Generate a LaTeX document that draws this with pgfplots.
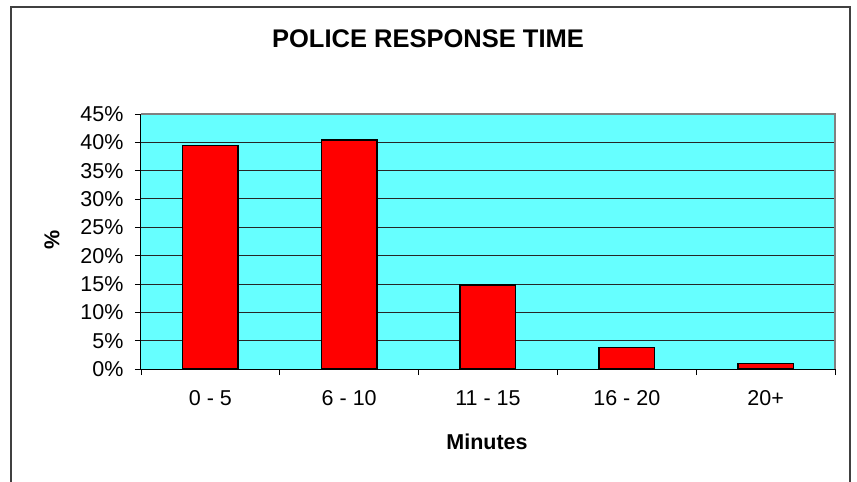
\documentclass[border=0pt]{standalone}
\usepackage{pgfplots}
\pgfplotsset{compat=1.18}
\usepackage{fontspec}
\setmainfont{Liberation Sans}
\definecolor{plotbg}{RGB}{102,255,255}
\definecolor{framegray}{RGB}{64,64,64}
\begin{document}
\begin{tikzpicture}
\begin{axis}[
  name=ax,
  scale only axis, width=694pt, height=255pt,
  xmin=-0.5, xmax=4.5, ymin=0, ymax=45,
  axis x line*=bottom, axis y line*=left,
  axis line style={black, line width=1pt},
  axis background/.style={fill=plotbg},
  xtick={-0.5,0.5,1.5,2.5,3.5,4.5},
  xticklabels={0 - 5,6 - 10,11 - 15,16 - 20,20+},
  x tick label as interval,
  ytick={0,5,...,45},
  yticklabels={0\%,5\%,10\%,15\%,20\%,25\%,30\%,35\%,40\%,45\%},
  tick align=outside, major tick length=6pt,
  tick style={black, line width=0.8pt},
  ymajorgrids, grid style={black!85, line width=1pt},
  tick label style={font=\fontsize{21.5}{24}\selectfont},
  xticklabel style={yshift=-12pt},
  yticklabel style={xshift=-8pt},
  ybar, bar width=55.5pt,
  clip=false,
]
\draw[gray, line width=1.5pt] (rel axis cs:0,1) -- (rel axis cs:1,1) -- (rel axis cs:1,0);
\addplot[fill=red, draw=black, line width=1.5pt] coordinates {(0,39.4) (1,40.4) (2,14.8) (3,3.8) (4,1.0)};
\coordinate (O) at (rel axis cs:0,0);
\end{axis}
\begin{scope}[shift={(O)}, x=1pt, y=1pt]
\begin{scope}
\clip (-141,-113) rectangle (716,369);
\draw[framegray, line width=1.5pt] (-130,-130) -- (-130,362) -- (709,362) -- (709,-130);
\end{scope}
\node[font=\fontsize{25.5}{30}\selectfont\bfseries] at (287,330.5) {POLICE RESPONSE TIME};
\node[font=\fontsize{21.5}{24}\selectfont\bfseries, rotate=90] at (-89,129) {\%};
\node[font=\fontsize{21.5}{24}\selectfont\bfseries] at (346,-73) {Minutes};
\pgfresetboundingbox
\useasboundingbox (-141,-113) rectangle (716,369);
\end{scope}
\end{tikzpicture}
\end{document}
